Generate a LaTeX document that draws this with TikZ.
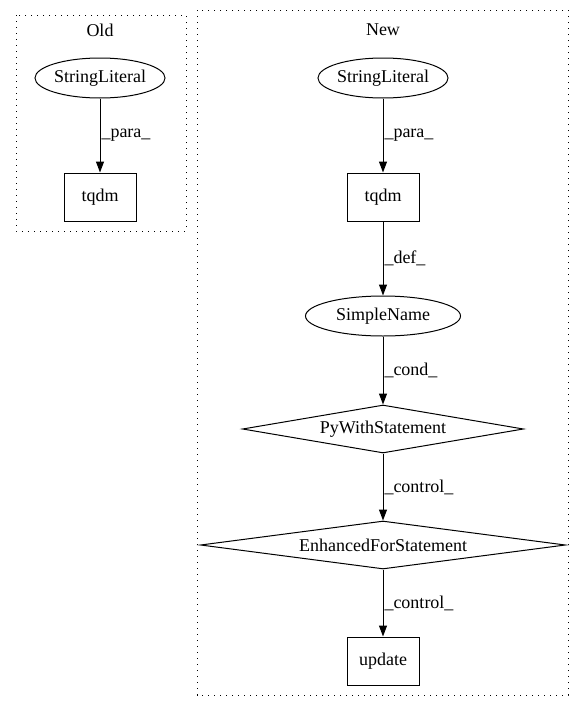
\documentclass[tikz,border=0pt]{standalone}
\usepackage{fontspec}
\setmainfont{Liberation Serif}
\usepackage{tikz}
\usetikzlibrary{arrows.meta, positioning, shapes.geometric}

\begin{document}
\begin{tikzpicture}[x=1pt, y=-1pt, >={Triangle[length=11pt, width=8pt]},
    every node/.style={font=\fontsize{18}{21}\selectfont},
    lit/.style={ellipse, draw=black, line width=1pt, inner sep=0pt},
    call/.style={rectangle, draw=black, line width=1pt, minimum width=72pt, minimum height=48pt, inner sep=0pt},
    stmt/.style={diamond, draw=black, line width=1pt, inner sep=0pt, minimum height=48pt},
    cluster/.style={draw=black, line width=1pt, dash pattern=on 1.2pt off 4.8pt},
    flow/.style={->, line width=1pt}]
        \useasboundingbox (0,0) rectangle (584,712);
        % clusters
        \draw[cluster] (16,15) rectangle (186,231);
        \draw[cluster] (197,10) rectangle (568,695);
        \node (oldtitle) at (100,30) {Old};
        \node (newtitle) at (383,30) {New};
        % old
        \node (oldlit) [lit, minimum width=100pt, minimum height=40pt] at (100,78) {StringLiteral};
        \node (oldtqdm) [call] at (100,197) {tqdm};
        % new
        \node (newlit) [lit, minimum width=100pt, minimum height=40pt] at (383,78) {StringLiteral};
        \node (newtqdm) [call] at (383,197) {tqdm};
        \node (simplename) [lit, minimum width=155pt, minimum height=40pt] at (383,316) {SimpleName};
        \node (pywith) [stmt, aspect=5.85, minimum width=281pt] at (383,429) {PyWithStatement};
        \node (enhfor) [stmt, aspect=7.6, minimum width=365pt] at (383,545) {EnhancedForStatement};
        \node (update) [call] at (383,661) {update};
        \draw[flow] (oldlit) -- node[right, inner sep=1pt] {\_para\_} (oldtqdm);
        \draw[flow] (newlit) -- node[right, inner sep=1pt] {\_para\_} (newtqdm);
        \draw[flow] (newtqdm) -- node[right, inner sep=1pt] {\_def\_} (simplename);
        \draw[flow] (simplename) -- node[right, inner sep=1pt] {\_cond\_} (pywith);
        \draw[flow] (pywith) -- node[right, inner sep=1pt] {\_control\_} (enhfor);
        \draw[flow] (enhfor) -- node[right, inner sep=1pt] {\_control\_} (update);
    \end{tikzpicture}
\end{document}
